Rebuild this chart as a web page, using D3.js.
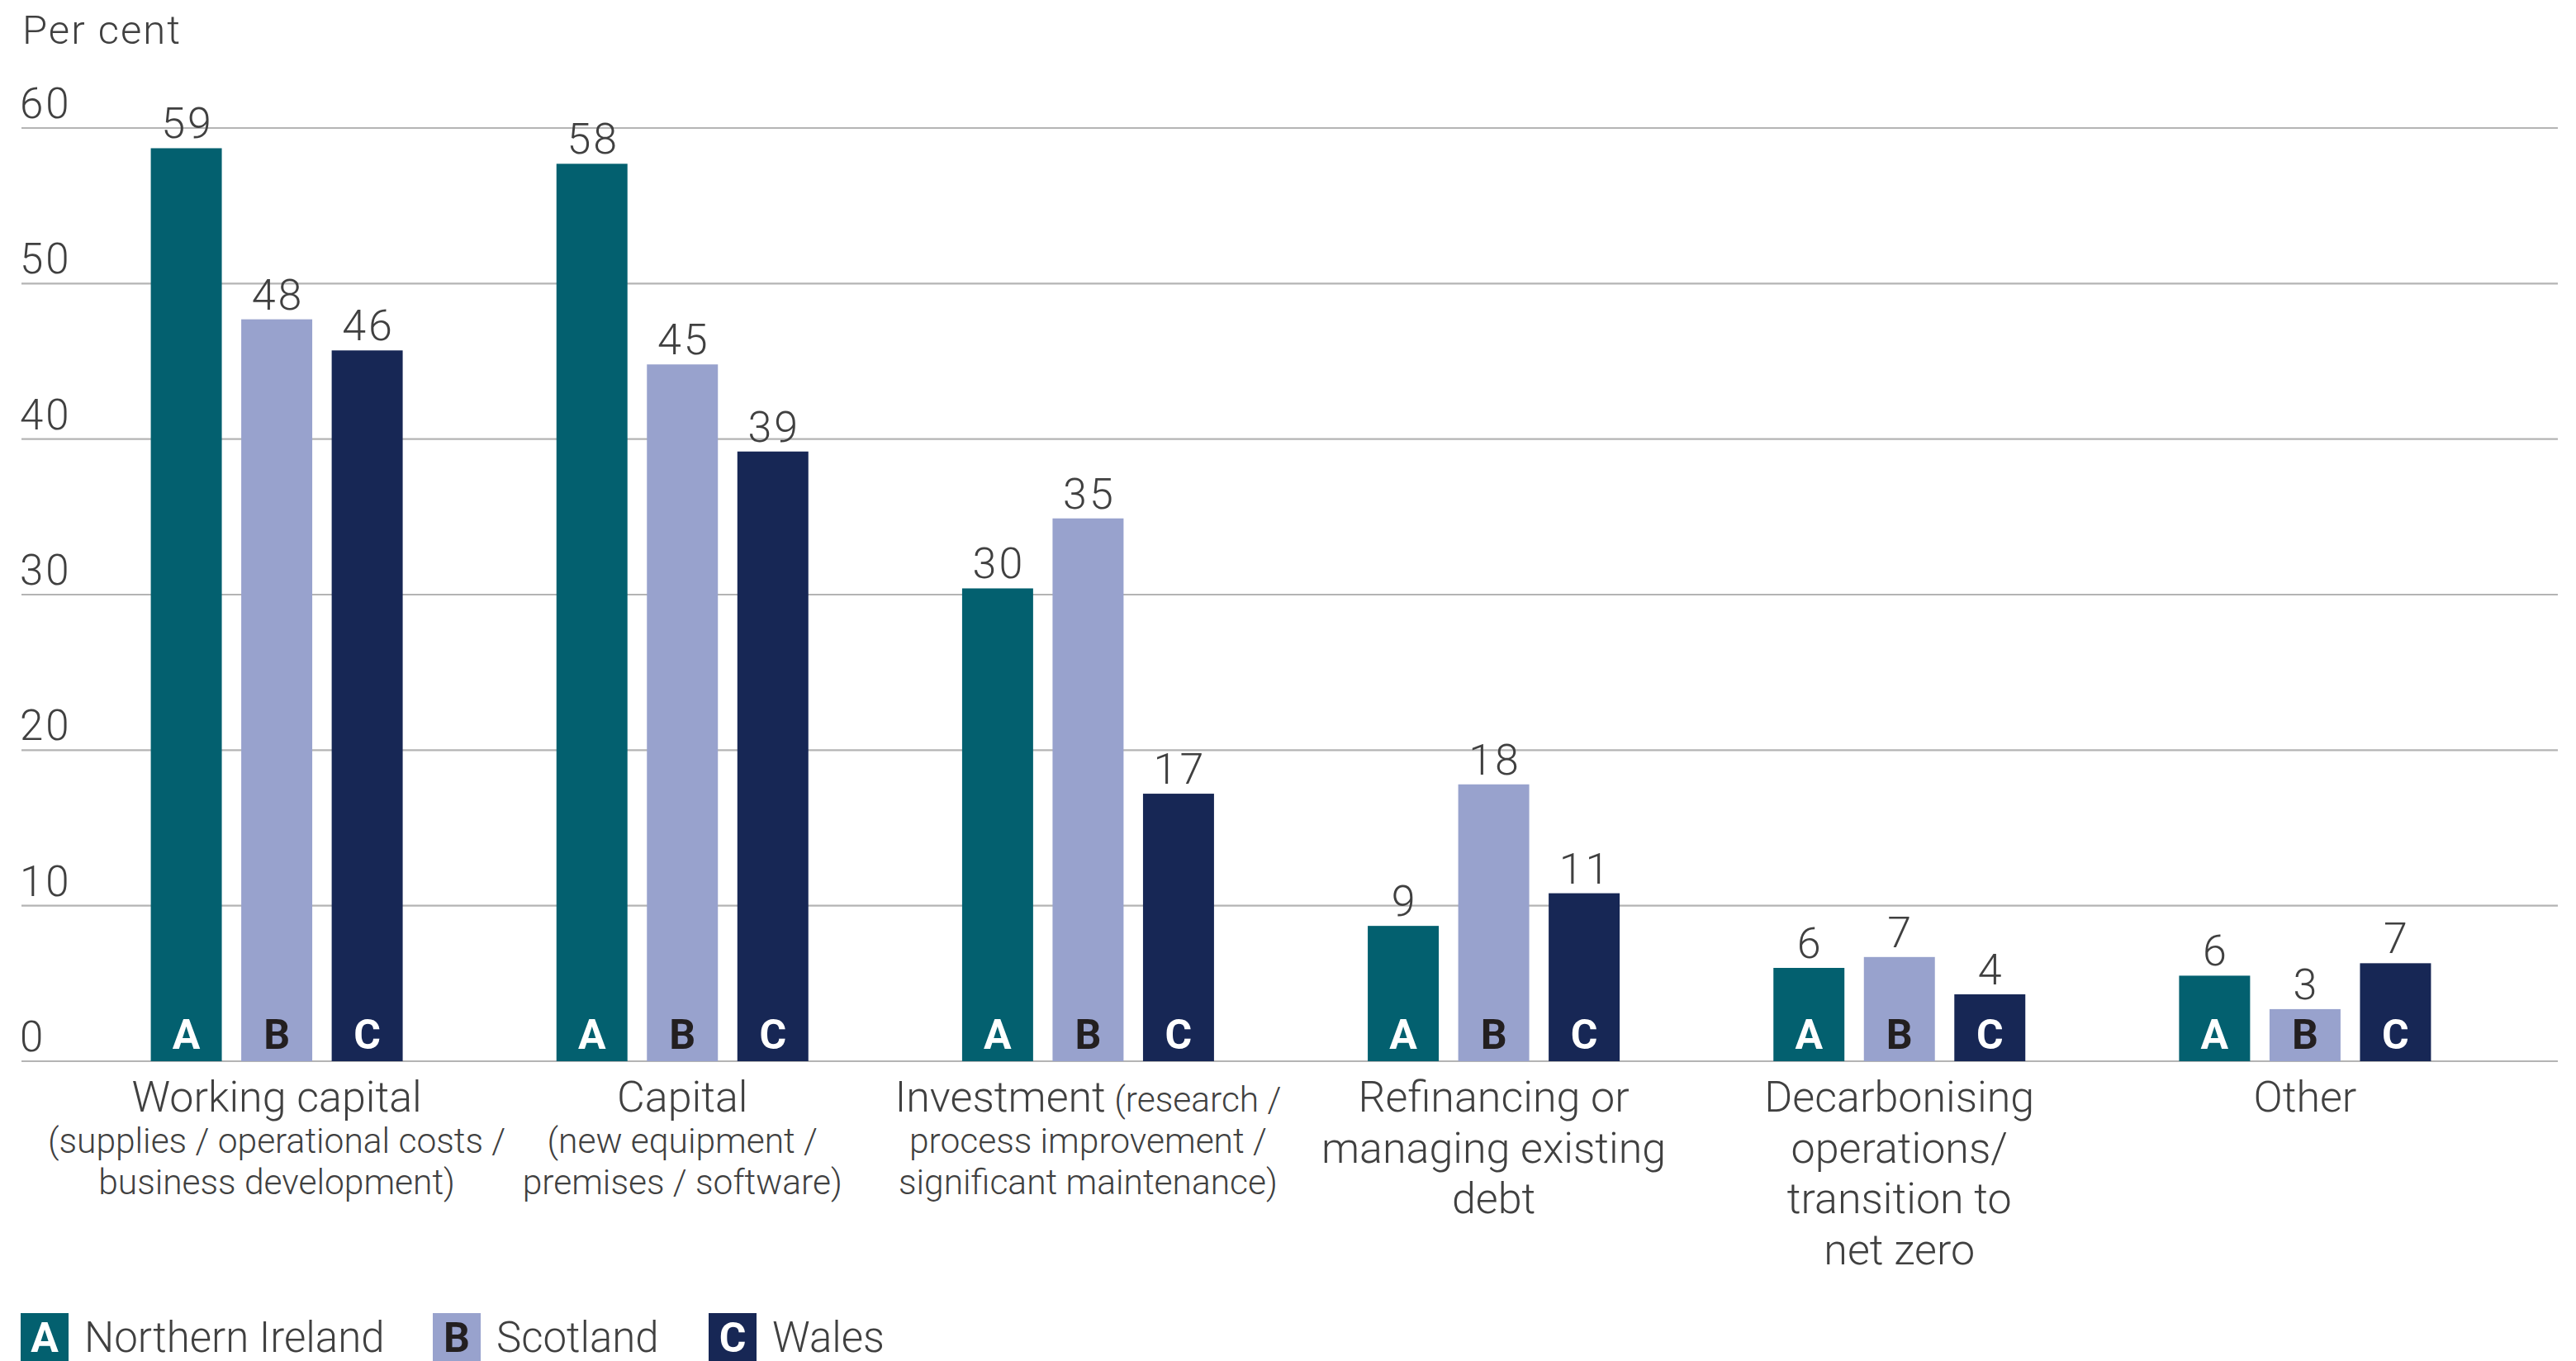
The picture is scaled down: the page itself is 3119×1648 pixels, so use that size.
<!DOCTYPE html>
<html>
<head>
<meta charset="utf-8">
<script src="https://cdn.jsdelivr.net/npm/d3@7"></script>
<style>
  html, body { margin: 0; padding: 0; background: #ffffff; }
  svg { display: block; }
  text { font-family: Roboto, "Liberation Sans", sans-serif; }
</style>
</head>
<body>
<div id="chart"></div>
<script>
// ---------------- data ----------------
const categories = ["Working capital", "Capital", "Investment", "Refinancing", "Decarbonising", "Other"];
const seriesNames = ["Northern Ireland", "Scotland", "Wales"];
const seriesKeys = ["A", "B", "C"];
const northernIreland = [58.7, 57.7, 30.4, 8.7, 6.0, 5.5];
const scotland        = [47.7, 44.8, 34.9, 17.8, 6.7, 3.35];
const wales           = [45.7, 39.2, 17.2, 10.8, 4.3, 6.3];
const labelsNI       = ["59", "58", "30", "9", "6", "6"];
const labelsScotland = ["48", "45", "35", "18", "7", "3"];
const labelsWales    = ["46", "39", "17", "11", "4", "7"];
const yTicks = [0, 10, 20, 30, 40, 50, 60];
const yAxisTitle = "Per cent";
// category label lines: each line is a list of [text, kind] where kind is "main" or "sub"
const categoryLabels = [
  [[["Working capital", "main"]], [["(supplies / operational costs /", "sub"]], [["business development)", "sub"]]],
  [[["Capital", "main"]], [["(new equipment /", "sub"]], [["premises / software)", "sub"]]],
  [[["Investment", "main"], [" (research /", "sub"]], [["process improvement /", "sub"]], [["significant maintenance)", "sub"]]],
  [[["Refinancing or", "main"]], [["managing existing", "main"]], [["debt", "main"]]],
  [[["Decarbonising", "main"]], [["operations/", "main"]], [["transition to", "main"]], [["net zero", "main"]]],
  [[["Other", "main"]]]
];

// ---------------- styles ----------------
const W = 3119, H = 1648;
const colors = ["#03606f", "#98a2cd", "#172755"];
const letterColors = ["#ffffff", "#231f20", "#ffffff"];
const textColor = "#404040";
const gridColor = "#b4b4b4";

const values = [northernIreland, scotland, wales];
const valueLabels = [labelsNI, labelsScotland, labelsWales];

const svg = d3.select("#chart").append("svg")
  .attr("width", W).attr("height", H);

const y = d3.scaleLinear().domain([0, 60]).range([1285, 155]);
const x0 = d3.scaleBand().domain(categories).range([89.5, 3036.5]).paddingInner(0).paddingOuter(0);
const x1 = d3.scaleBand().domain(seriesKeys).range([-152.5, 152.5]).paddingInner(0.215).paddingOuter(0);

// gridlines
const grid = svg.append("g");
grid.selectAll("line").data(yTicks).join("line")
  .attr("x1", 26).attr("x2", 3097)
  .attr("y1", d => y(d)).attr("y2", d => y(d))
  .attr("stroke", gridColor).attr("stroke-width", 2.2);

grid.selectAll("text").data(yTicks).join("text")
  .attr("x", 24).attr("y", d => y(d) - 12)
  .attr("font-size", 51).attr("font-weight", 300)
  .attr("letter-spacing", 3)
  .attr("fill", textColor)
  .text(d => d);

svg.append("text")
  .attr("x", 27).attr("y", 53)
  .attr("font-size", 49).attr("font-weight", 300)
  .attr("letter-spacing", 2)
  .attr("fill", textColor)
  .text(yAxisTitle);

// bars
const groups = svg.append("g").selectAll("g").data(categories).join("g")
  .attr("transform", d => `translate(${x0(d) + x0.bandwidth() / 2},0)`);

groups.each(function(cat, ci) {
  const g = d3.select(this);
  const data = seriesKeys.map((k, si) => ({ k, si, v: values[si][ci], lab: valueLabels[si][ci] }));
  g.selectAll("rect").data(data).join("rect")
    .attr("x", d => x1(d.k))
    .attr("width", x1.bandwidth())
    .attr("y", d => y(d.v))
    .attr("height", d => y(0) - y(d.v))
    .attr("fill", d => colors[d.si]);
  g.selectAll("text.val").data(data).join("text")
    .attr("class", "val")
    .attr("x", d => x1(d.k) + x1.bandwidth() / 2 + 1.5)
    .attr("y", d => y(d.v) - 12)
    .attr("text-anchor", "middle")
    .attr("font-size", 52).attr("font-weight", 300)
    .attr("letter-spacing", 3)
    .attr("fill", textColor)
    .text(d => d.lab);
  g.selectAll("text.key").data(data).join("text")
    .attr("class", "key")
    .attr("x", d => x1(d.k) + x1.bandwidth() / 2)
    .attr("y", y(0) - 15)
    .attr("text-anchor", "middle")
    .attr("font-size", 50).attr("font-weight", 700)
    .attr("fill", d => letterColors[d.si])
    .text(d => d.k);

  // category label
  const lines = categoryLabels[ci];
  let yy = 1346;
  lines.forEach((line, li) => {
    if (li > 0) yy += (line[0][1] === "main" ? 61.5 : 50);
    const t = g.append("text")
      .attr("x", 0).attr("y", yy)
      .attr("text-anchor", "middle")
      .attr("font-weight", 300)
      .attr("fill", textColor);
    line.forEach(seg => {
      t.append("tspan")
        .attr("font-size", seg[1] === "main" ? 52 : 42.5)
        .text(seg[0]);
    });
  });
});

// legend
const legendX = [25, 524, 858];
const legend = svg.append("g").selectAll("g").data(seriesNames).join("g")
  .attr("transform", (d, i) => `translate(${legendX[i]},1590)`);
legend.append("rect")
  .attr("width", 58).attr("height", 58)
  .attr("fill", (d, i) => colors[i]);
legend.append("text")
  .attr("x", 29).attr("y", 47)
  .attr("text-anchor", "middle")
  .attr("font-size", 50).attr("font-weight", 700)
  .attr("fill", (d, i) => letterColors[i])
  .text((d, i) => seriesKeys[i]);
legend.append("text")
  .attr("x", 77).attr("y", 47)
  .attr("font-size", 51).attr("font-weight", 300)
  .attr("fill", textColor)
  .text(d => d);
</script>
</body>
</html>
